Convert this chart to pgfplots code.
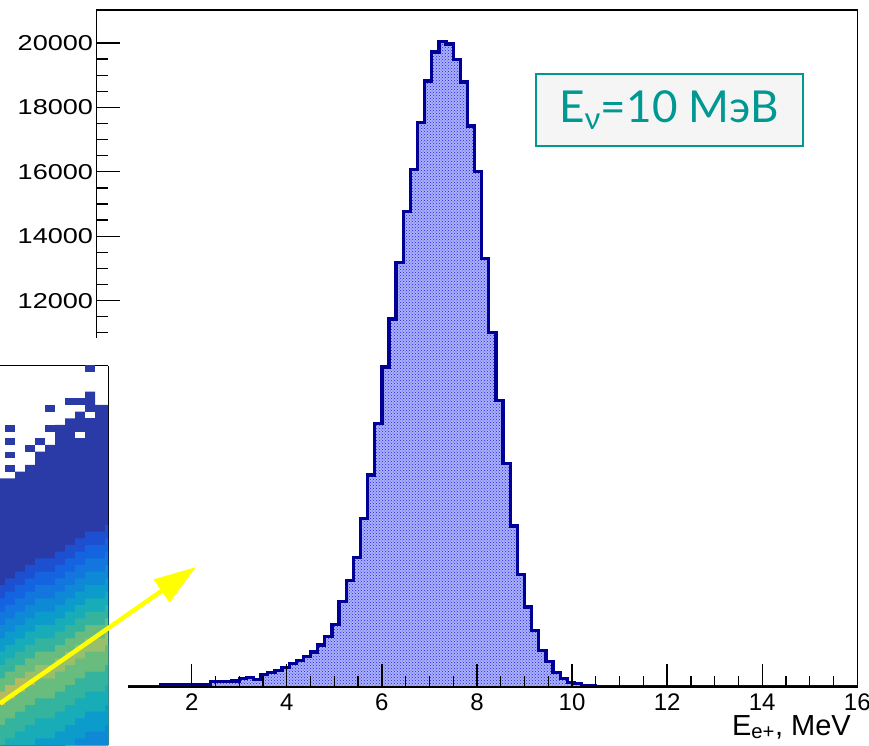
\documentclass[border=0pt]{standalone}
\usepackage{fontspec}
\setmainfont{Liberation Sans}
\newfontfamily\latofont{Lato}
\usepackage{graphicx}
\usepackage{pgfplots}
\pgfplotsset{compat=1.18}
\usepackage{pgfplotstable}
\usetikzlibrary{patterns,arrows.meta}

\definecolor{histline}{RGB}{0,0,150}
\definecolor{histfill}{RGB}{172,178,246}
\definecolor{dotblue}{RGB}{30,30,255}
\definecolor{tealc}{RGB}{0,152,147}
\definecolor{boxbg}{RGB}{245,245,245}
\definecolor{arrowy}{RGB}{255,255,0}
\definecolor{Lone}{RGB}{42,59,168}
\definecolor{Ltwo}{RGB}{28,80,208}
\definecolor{Lthree}{RGB}{20,99,224}
\definecolor{Lfour}{RGB}{18,118,222}
\definecolor{Lfive}{RGB}{14,137,214}
\definecolor{Lsix}{RGB}{12,156,204}
\definecolor{Lseven}{RGB}{24,171,184}
\definecolor{Leight}{RGB}{52,180,158}
\definecolor{Lnine}{RGB}{104,188,126}
\definecolor{Lten}{RGB}{152,191,108}
\definecolor{Leleven}{RGB}{182,188,94}

\pgfplotstableread{
x y
0.00 10
0.15 10
0.30 10
0.45 10
0.60 10
0.75 15
0.90 15
1.05 20
1.20 20
1.35 60
1.50 65
1.65 70
1.80 70
1.95 75
2.10 75
2.25 80
2.40 170
2.55 175
2.70 180
2.85 185
3.00 255
3.15 305
3.30 240
3.45 390
3.60 460
3.75 515
3.90 615
4.05 740
4.20 830
4.35 950
4.50 1090
4.65 1300
4.80 1560
4.95 1950
5.10 2650
5.25 3300
5.40 4020
5.55 5240
5.70 6580
5.85 8180
6.00 9940
6.15 11430
6.30 13190
6.45 14770
6.60 16080
6.75 17540
6.90 18820
7.05 19720
7.20 20050
7.35 19970
7.50 19480
7.65 18790
7.80 17420
7.95 16000
8.10 13300
8.25 11000
8.40 8900
8.55 6950
8.70 5000
8.85 3500
9.00 2480
9.15 1760
9.30 1137
9.45 800
9.60 450
9.75 265
9.90 150
10.05 100
10.20 55
10.35 40
10.50 25
10.65 0
16.00 0
}\histdata

\pgfplotstableread{
x w a16 a14 a12 a10 a8 a6 a4 a2 a0 yel m2 m5 m8 m11 m14
-1 40 24 22 20 18 16 14 12 10 8 8 6 3 0 -3 -6
0 40 25 23 21 19 17 15 13 11 9 9 7 4 1 -2 -5
1 41 26 24 22 20 18 16 14 12 10 10 8 5 2 -1 -4
2 42 27 25 23 21 19 17 15 13 11 10 9 6 3 0 -3
3 44 28 26 24 22 20 18 16 14 12 10 10 7 4 1 -2
4 45 28 26 24 22 20 18 16 14 12 10 10 7 4 1 -2
5 48 29 27 25 23 21 19 17 15 13 11 11 8 5 2 -1
6 49 30 28 26 24 22 20 18 16 14 12 12 9 6 3 0
7 50 31 29 27 25 23 21 19 17 15 13 13 10 7 4 1
8 53 32 30 28 26 24 22 20 18 16 14 14 11 8 5 2
9 51 32 30 28 26 24 22 20 18 16 14 14 11 8 5 2
10 51 33 31 29 27 25 23 21 19 17 15 15 12 9 6 3
11 51 33 31 29 27 25 23 21 19 17 15 15 12 9 6 3
}\insetdata

\begin{document}
\begin{tikzpicture}
\path[use as bounding box] (0,0) rectangle (869pt,745pt);
\begin{axis}[
  at={(96.6pt,58pt)}, anchor=south west,
  scale only axis, width=760.7pt, height=677pt,
  xmin=0, xmax=16, ymin=0, ymax=21025,
  enlargelimits=false,
  scaled y ticks=false, scaled x ticks=false,
  xtick={2,4,...,16}, minor x tick num=3,
  ytick={0,2000,...,20000}, minor y tick num=3,
  tick align=inside, tick pos=left,
  major tick length=23pt, minor tick length=11.5pt,
  major tick style={black, line width=1.3pt},
  minor tick style={black, line width=1.3pt},
  axis line style={black, line width=1.5pt},
  axis on top,
  /pgf/number format/1000 sep={},
  /pgf/number format/assume math mode=true,
  xticklabel style={font=\fontsize{24}{24}\selectfont, yshift=-3pt},
  yticklabel style={font=\fontsize{21.5}{21.5}\selectfont},
  yticklabel={\scalebox{1.26}[1]{\pgfmathprintnumber[fixed,precision=0]{\tick}}},
]
\addplot[const plot, draw=none, fill=histfill] table {\histdata} \closedcycle;
\addplot[const plot, draw=none, pattern=crosshatch dots, pattern color=dotblue] table {\histdata} \closedcycle;
\addplot[const plot, draw=histline, line width=3.3pt] table {\histdata};
\end{axis}
\node[anchor=base east, inner sep=0pt, font=\fontsize{29}{29}\selectfont] at (851pt,10pt) {E\textsubscript{e+}, MeV};

\fill[white] (0pt,0pt) rectangle (128pt,407pt);

\begin{axis}[
  at={(0pt,0pt)}, anchor=south west,
  scale only axis, width=108pt, height=379pt,
  xmin=-0.5, xmax=10.3, ymin=0, ymax=56.85,
  enlargelimits=false,
  axis x line=top, axis y line=right,
  axis line style={-, black, line width=1pt},
  ticks=none,
]
\addplot[const plot, draw=none, fill=Lone] table[x=x,y=w] {\insetdata} \closedcycle;
\addplot[const plot, draw=none, fill=Ltwo] table[x=x,y=a16] {\insetdata} \closedcycle;
\addplot[const plot, draw=none, fill=Lthree] table[x=x,y=a14] {\insetdata} \closedcycle;
\addplot[const plot, draw=none, fill=Lfour] table[x=x,y=a12] {\insetdata} \closedcycle;
\addplot[const plot, draw=none, fill=Lfive] table[x=x,y=a10] {\insetdata} \closedcycle;
\addplot[const plot, draw=none, fill=Lsix] table[x=x,y=a8] {\insetdata} \closedcycle;
\addplot[const plot, draw=none, fill=Lseven] table[x=x,y=a6] {\insetdata} \closedcycle;
\addplot[const plot, draw=none, fill=Leight] table[x=x,y=a4] {\insetdata} \closedcycle;
\addplot[const plot, draw=none, fill=Lnine] table[x=x,y=a2] {\insetdata} \closedcycle;
\addplot[const plot, draw=none, fill=Lten] table[x=x,y=a0] {\insetdata} \closedcycle;
\addplot[const plot, draw=none, fill=Leleven] table[x=x,y=yel] {\insetdata} \closedcycle;
\addplot[const plot, draw=none, fill=Lnine] table[x=x,y=m2] {\insetdata} \closedcycle;
\addplot[const plot, draw=none, fill=Leight] table[x=x,y=m5] {\insetdata} \closedcycle;
\addplot[const plot, draw=none, fill=Lseven] table[x=x,y=m8] {\insetdata} \closedcycle;
\addplot[const plot, draw=none, fill=Lsix] table[x=x,y=m11] {\insetdata} \closedcycle;
\addplot[const plot, draw=none, fill=Lfive] table[x=x,y=m14] {\insetdata} \closedcycle;
% isolated cells
\addplot[draw=none, fill=Lone] coordinates {(0,41) (1,41) (1,42) (0,42)} -- cycle;
\addplot[draw=none, fill=Lone] coordinates {(0,43) (1,43) (1,44) (0,44)} -- cycle;
\addplot[draw=none, fill=Lone] coordinates {(0,45) (1,45) (1,46) (0,46)} -- cycle;
\addplot[draw=none, fill=Lone] coordinates {(0,47) (1,47) (1,48) (0,48)} -- cycle;
\addplot[draw=none, fill=Lone] coordinates {(2,44) (3,44) (3,45) (2,45)} -- cycle;
\addplot[draw=none, fill=Lone] coordinates {(3,45) (4,45) (4,46) (3,46)} -- cycle;
\addplot[draw=none, fill=Lone] coordinates {(4,47) (5,47) (5,48) (4,48)} -- cycle;
\addplot[draw=none, fill=Lone] coordinates {(4,50) (5,50) (5,51) (4,51)} -- cycle;
\addplot[draw=none, fill=Lone] coordinates {(6,51) (8,51) (8,52) (6,52)} -- cycle;
\addplot[draw=none, fill=Lone] coordinates {(8,56) (9,56) (9,57) (8,57)} -- cycle;
\addplot[draw=none, fill=white] coordinates {(8,49) (9,49) (9,50) (8,50)} -- cycle;
\addplot[draw=none, fill=white] coordinates {(7,46) (8,46) (8,47) (7,47)} -- cycle;
\end{axis}

\draw[arrowy, line width=4.5pt, -{Triangle[length=42pt,width=27pt]}] (0pt,41.5pt) -- (196pt,178pt);

\node[draw=tealc, line width=2pt, fill=boxbg, text=tealc, inner sep=0pt,
      minimum width=267pt, minimum height=72pt,
      font=\latofont\fontsize{44}{44}\selectfont] at (669pt,635pt) {E\textsubscript{ν}=10 МэВ};
\end{tikzpicture}
\end{document}
